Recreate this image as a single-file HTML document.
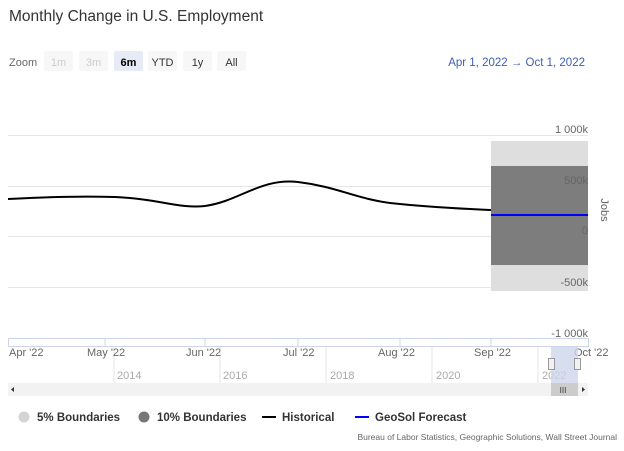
<!DOCTYPE html>
<html><head><meta charset="utf-8"><style>
body{margin:0;width:624px;height:446px;background:#fff;font-family:"Liberation Sans",sans-serif;overflow:hidden}
</style></head><body>
<svg width="624" height="446" xmlns="http://www.w3.org/2000/svg" font-family="Liberation Sans, sans-serif">
<text x="9" y="21" font-size="15.5" fill="#333">Monthly Change in U.S. Employment</text>
<text x="9" y="66" font-size="11" fill="#666">Zoom</text>
<rect x="44" y="51" width="29" height="20" rx="2" fill="#f7f7f7"/><text x="58.5" y="66" font-size="11" fill="#ccc" text-anchor="middle">1m</text>
<rect x="79" y="51" width="29" height="20" rx="2" fill="#f7f7f7"/><text x="93.5" y="66" font-size="11" fill="#ccc" text-anchor="middle">3m</text>
<rect x="114" y="51" width="29" height="20" rx="2" fill="#e6ebf5"/><text x="128.5" y="66" font-size="11" fill="#000" font-weight="bold" text-anchor="middle">6m</text>
<rect x="148" y="51" width="29" height="20" rx="2" fill="#f7f7f7"/><text x="162.5" y="66" font-size="11" fill="#333" text-anchor="middle">YTD</text>
<rect x="183" y="51" width="29" height="20" rx="2" fill="#f7f7f7"/><text x="197.5" y="66" font-size="11" fill="#333" text-anchor="middle">1y</text>
<rect x="217" y="51" width="29" height="20" rx="2" fill="#f7f7f7"/><text x="231.5" y="66" font-size="11" fill="#333" text-anchor="middle">All</text>
<text x="585" y="66" font-size="11.5" fill="#3c5fb0" text-anchor="end">Apr 1, 2022  →  Oct 1, 2022</text>
<g stroke="#e6e6e6" stroke-width="1">
<line x1="8" y1="135.5" x2="588" y2="135.5"/><line x1="8" y1="186.5" x2="588" y2="186.5"/><line x1="8" y1="236.5" x2="588" y2="236.5"/><line x1="8" y1="287.5" x2="588" y2="287.5"/>
</g>
<rect x="491" y="141" width="97" height="150" fill="#dedede"/>
<rect x="491" y="166" width="97" height="99" fill="#7d7d7d"/>
<line x1="491" y1="215" x2="588" y2="215" stroke="#0000ff" stroke-width="2"/>
<path d="M8,199 C50,197 80,196 115,197 C160,199 180,209 205,206 C240,201 260,178 298,182 C340,187 360,201 400,204 C440,208 470,209 491,210" fill="none" stroke="#000" stroke-width="2"/>
<g font-size="11" fill="#666" text-anchor="end">
<text x="588" y="133">1 000k</text><text x="588" y="184">500k</text><text x="588" y="234">0</text><text x="588" y="286">-500k</text><text x="588" y="337">-1 000k</text>
</g>
<text x="601" y="210" font-size="11" fill="#666" transform="rotate(90 601 210)" text-anchor="middle">Jobs</text>
<rect x="8.5" y="338.5" width="580" height="8" fill="none" stroke="#ccd6eb"/>
<g stroke="#ccd6eb"><line x1="105" y1="339" x2="105" y2="347"/><line x1="205" y1="339" x2="205" y2="347"/><line x1="298" y1="339" x2="298" y2="347"/><line x1="400" y1="339" x2="400" y2="347"/><line x1="491" y1="339" x2="491" y2="347"/></g>
<g stroke="#e6e6e6"><line x1="114" y1="347" x2="114" y2="383"/><line x1="220" y1="347" x2="220" y2="383"/><line x1="326" y1="347" x2="326" y2="383"/><line x1="432" y1="347" x2="432" y2="383"/><line x1="538" y1="347" x2="538" y2="383"/></g>
<g font-size="11" fill="#666">
<text x="9" y="356">Apr '22</text><text x="87" y="356">May '22</text><text x="186" y="356">Jun '22</text><text x="283" y="356">Jul '22</text><text x="378" y="356">Aug '22</text><text x="474" y="356">Sep '22</text><text x="574" y="356">Oct '22</text>
</g>
<g font-size="11" fill="#aaa"><text x="117" y="379">2014</text><text x="223" y="379">2016</text><text x="330" y="379">2018</text><text x="436" y="379">2020</text><text x="542" y="379">2022</text></g>
<rect x="551" y="347" width="27" height="49" fill="#ccd6eb" opacity="0.8"/>
<rect x="548.5" y="358.5" width="6" height="11" fill="#f2f2f2" stroke="#999"/><rect x="574.5" y="358.5" width="6" height="11" fill="#f2f2f2" stroke="#999"/>
<rect x="8" y="383" width="580" height="13" fill="#f2f2f2"/>
<rect x="551" y="383" width="27" height="13" fill="#ccc"/>
<text x="563" y="393" font-size="8" fill="#333" text-anchor="middle">III</text>
<path d="M14,387 L11,389.5 L14,392 Z M582,387 L585,389.5 L582,392 Z" fill="#333"/>
<circle cx="24" cy="417" r="5.5" fill="#d4d4d4"/><text x="37" y="421" font-size="11.5" font-weight="bold" fill="#333">5% Boundaries</text>
<circle cx="144" cy="417" r="5.5" fill="#777"/><text x="157" y="421" font-size="11.5" font-weight="bold" fill="#333">10% Boundaries</text>
<line x1="262" y1="417" x2="276" y2="417" stroke="#000" stroke-width="2"/><text x="282" y="421" font-size="11.5" font-weight="bold" fill="#333">Historical</text>
<line x1="355" y1="417" x2="369" y2="417" stroke="#0000ff" stroke-width="2"/><text x="375" y="421" font-size="11.5" font-weight="bold" fill="#333">GeoSol Forecast</text>
<text x="617" y="440" font-size="8.5" fill="#666" text-anchor="end">Bureau of Labor Statistics, Geographic Solutions, Wall Street Journal</text>
</svg>
</body></html>
